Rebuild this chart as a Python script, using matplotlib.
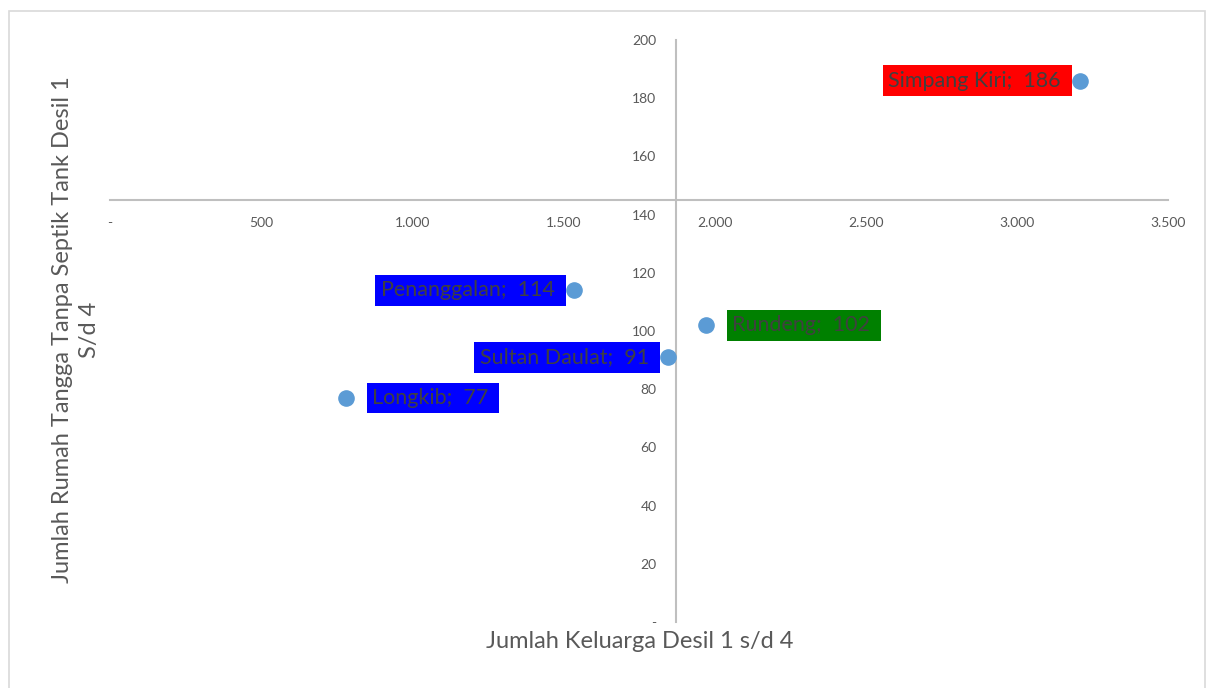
import matplotlib.pyplot as plt
from matplotlib.ticker import FuncFormatter, MultipleLocator
from matplotlib.patches import Rectangle

plt.rcParams['font.family'] = ['Lato', 'DejaVu Sans']

# data
kecamatan = ['Simpang Kiri', 'Penanggalan', 'Rundeng', 'Sultan Daulat', 'Longkib']
keluarga = [3210, 1535, 1972, 1846, 780]
rumah_tangga = [186, 114, 102, 91, 77]
warna_label = ['#FF0000', '#0000FF', '#008000', '#0000FF', '#0000FF']
sisi_label = ['left', 'left', 'right', 'left', 'right']

# titik potong sumbu
x_potong = 1872
y_potong = 145


def fmt_ribuan(v, pos):
    if v == 0:
        return '-'
    return f'{v:,.0f}'.replace(',', '.')


fig = plt.figure(figsize=(12.06, 6.88), dpi=100)
ax = fig.add_axes([110 / 1206, 66 / 688, 1058 / 1206, 582 / 688])

# bingkai chart
fig.patches.append(Rectangle((9 / 1206, -0.05), 1196 / 1206, 1.05 - 11 / 688,
                             transform=fig.transFigure, fill=False,
                             edgecolor='#D9D9D9', linewidth=1.2))

ax.scatter(keluarga, rumah_tangga, s=120, color='#5B9BD5', zorder=3)

for nama, x, y, c, sisi in zip(kecamatan, keluarga, rumah_tangga, warna_label, sisi_label):
    teks = f'{nama};  {y} '
    if sisi == 'left':
        off, ha = -10, 'right'
    else:
        off, ha = 19, 'left'
    ax.annotate(teks, (x, y), xytext=(off, 0), textcoords='offset points',
                ha=ha, va='center', fontsize=15.5, color='#404040',
                bbox=dict(boxstyle='square,pad=0.25', fc=c, ec='none'))

ax.set_xlim(0, 3500)
ax.set_ylim(0, 200)
ax.xaxis.set_major_locator(MultipleLocator(500))
ax.yaxis.set_major_locator(MultipleLocator(20))
ax.xaxis.set_major_formatter(FuncFormatter(fmt_ribuan))
ax.yaxis.set_major_formatter(FuncFormatter(fmt_ribuan))

ax.spines['top'].set_visible(False)
ax.spines['right'].set_visible(False)
ax.spines['left'].set_position(('data', x_potong))
ax.spines['bottom'].set_position(('data', y_potong))
for s in ['left', 'bottom']:
    ax.spines[s].set_color('#BFBFBF')
    ax.spines[s].set_linewidth(1.5)

ax.tick_params(axis='x', length=0, pad=12, labelsize=10, labelcolor='#595959')
ax.tick_params(axis='y', length=0, pad=14, labelsize=10, labelcolor='#595959')

fig.text(640 / 1206, 1 - 642 / 688, 'Jumlah Keluarga Desil 1 s/d 4',
         ha='center', va='center', fontsize=17, color='#595959')
fig.text(76 / 1206, 1 - 330 / 688, 'Jumlah Rumah Tangga Tanpa Septik Tank Desil 1\nS/d 4',
         ha='center', va='center', rotation=90, fontsize=17, color='#595959',
         multialignment='center', linespacing=1.3)

fig.savefig('out.png', dpi=100)
